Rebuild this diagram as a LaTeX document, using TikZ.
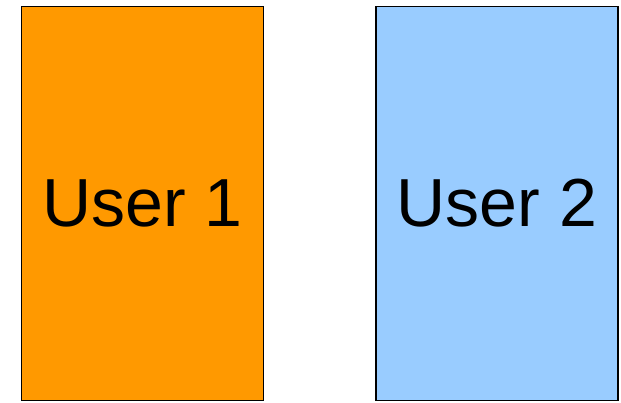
\documentclass[tikz,border=0pt]{standalone}
\usepackage{fontspec}
\setmainfont{Liberation Sans}
\definecolor{userorange}{HTML}{FF9900}
\definecolor{userblue}{HTML}{99CCFF}
\tikzset{
    userbox/.style={draw=black, line width=1.2pt, minimum width=242pt, minimum height=394pt,
        inner sep=0pt, font=\fontsize{68}{82}\selectfont}
}
\begin{document}
\begin{tikzpicture}[x=1pt,y=1pt]
    \useasboundingbox (0,0) rectangle (621,402);

    \node[userbox, fill=userorange] (user1) at (142.5,198.5) {User 1};
    \node[userbox, fill=userblue] (user2) at (497,198.5) {User 2};
\end{tikzpicture}
\end{document}
